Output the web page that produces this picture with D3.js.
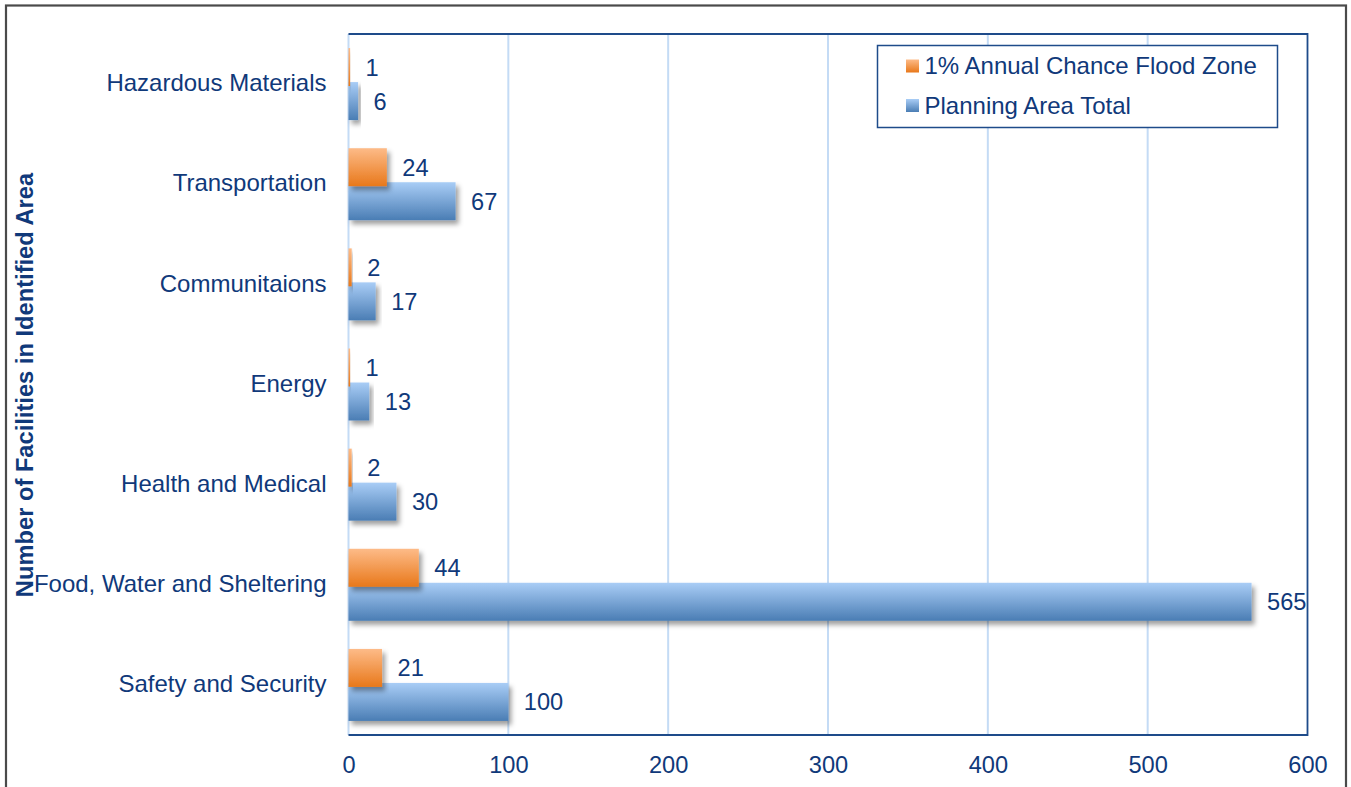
<!DOCTYPE html>
<html>
<head>
<meta charset="utf-8">
<script src="https://cdn.jsdelivr.net/npm/d3@7"></script>
<style>
  html, body { margin: 0; padding: 0; background: #fff; }
  svg { display: block; }
  text { font-family: "Liberation Sans", Arial, sans-serif; fill: #10397a; }
</style>
</head>
<body>
<svg id="chart" width="1351" height="787"></svg>
<script>
// Critical facilities by category
const categories = [
  "Hazardous Materials",
  "Transportation",
  "Communitaions",
  "Energy",
  "Health and Medical",
  "Food, Water and Sheltering",
  "Safety and Security"
];
const floodZone = [1, 24, 2, 1, 2, 44, 21];
const planningTotal = [6, 67, 17, 13, 30, 565, 100];
const xTicks = [0, 100, 200, 300, 400, 500, 600];
const seriesNames = ["1% Annual Chance Flood Zone", "Planning Area Total"];

const svg = d3.select("#chart");
const W = 1351, H = 787;
const plot = { left: 348.5, right: 1307.5, top: 34, bottom: 735 };
const textColor = "#10397a";
const fontSize = 23.6;

svg.append("rect").attr("width", W).attr("height", H).attr("fill", "#fff");

// gradients and shadow
const defs = svg.append("defs");
function vGrad(id, top, bottom) {
  const g = defs.append("linearGradient").attr("id", id)
    .attr("x1", 0).attr("y1", 0).attr("x2", 0).attr("y2", 1);
  g.append("stop").attr("offset", "0%").attr("stop-color", top);
  g.append("stop").attr("offset", "100%").attr("stop-color", bottom);
}
vGrad("gradOrange", "#fdbb88", "#e8781a");
vGrad("gradBlue", "#a9cdf6", "#4a7db4");
const shadow = defs.append("filter").attr("id", "barShadow")
  .attr("x", "-10%").attr("y", "-30%").attr("width", "130%").attr("height", "180%");
shadow.append("feDropShadow")
  .attr("dx", 3).attr("dy", 4).attr("stdDeviation", 2.5)
  .attr("flood-color", "#000").attr("flood-opacity", 0.38);

// outer frame
svg.append("rect")
  .attr("x", 6).attr("y", 5.5).attr("width", 1340).attr("height", 820)
  .attr("fill", "none").attr("stroke", "#4a4a4a").attr("stroke-width", 2.2);

const x = d3.scaleLinear().domain([0, 600]).range([plot.left, plot.right]);
const y = d3.scaleBand().domain(categories).range([plot.top, plot.bottom]);

// vertical gridlines
svg.append("g").selectAll("line").data(xTicks.slice(0, -1)).join("line")
  .attr("x1", d => x(d)).attr("x2", d => x(d))
  .attr("y1", plot.top).attr("y2", plot.bottom)
  .attr("stroke", "#c4dbf5").attr("stroke-width", 2);

// plot border: top, right, bottom
svg.append("path")
  .attr("d", `M${plot.left},${plot.top}H${plot.right}V${plot.bottom}H${plot.left}`)
  .attr("fill", "none").attr("stroke", "#1e4b8a").attr("stroke-width", 1.8);

// bars
const barH = 38;
const rows = categories.map((c, i) => ({ c, flood: floodZone[i], total: planningTotal[i] }));
const bars = svg.append("g");

bars.selectAll("rect.total").data(rows).join("rect")
  .attr("class", "total")
  .attr("x", x(0))
  .attr("y", d => y(d.c) + y.bandwidth() / 2 - 2)
  .attr("width", d => x(d.total) - x(0))
  .attr("height", barH)
  .attr("fill", "url(#gradBlue)")
  .attr("filter", "url(#barShadow)");

bars.selectAll("rect.flood").data(rows).join("rect")
  .attr("class", "flood")
  .attr("x", x(0))
  .attr("y", d => y(d.c) + y.bandwidth() / 2 - 36)
  .attr("width", d => x(d.flood) - x(0))
  .attr("height", barH)
  .attr("fill", "url(#gradOrange)")
  .attr("filter", "url(#barShadow)");

// value labels
const labels = svg.append("g").attr("font-size", fontSize);
labels.selectAll("text.flood").data(rows).join("text")
  .attr("x", d => x(d.flood) + 15.5)
  .attr("y", d => y(d.c) + y.bandwidth() / 2 - 17 + 8.5)
  .text(d => d.flood);
labels.selectAll("text.total").data(rows).join("text")
  .attr("x", d => x(d.total) + 15.5)
  .attr("y", d => y(d.c) + y.bandwidth() / 2 + 17 + 8.5)
  .text(d => d.total);

// category axis labels
const yAxis = d3.axisLeft(y).tickSize(0).tickPadding(22);
svg.append("g").attr("transform", `translate(${plot.left},0)`).call(yAxis)
  .call(g => g.select(".domain").remove())
  .call(g => g.selectAll("text")
    .attr("font-size", 24)
    .attr("font-family", "Liberation Sans, Arial, sans-serif")
    .attr("fill", textColor)
    .attr("dy", "0.3em"));

// value axis tick labels
const xAxis = d3.axisBottom(x).tickValues(xTicks).tickSize(0).tickPadding(0);
svg.append("g").attr("transform", `translate(0,${plot.bottom})`).call(xAxis)
  .call(g => g.select(".domain").remove())
  .call(g => g.selectAll("text")
    .attr("font-size", 23.6)
    .attr("font-family", "Liberation Sans, Arial, sans-serif")
    .attr("fill", textColor)
    .attr("dy", 0)
    .attr("y", 38));

// axis title
svg.append("text")
  .attr("transform", "translate(33,385) rotate(-90)")
  .attr("text-anchor", "middle")
  .attr("font-size", 23.7)
  .attr("font-weight", "bold")
  .text("Number of Facilities in Identified Area");

// legend
const legend = svg.append("g");
legend.append("rect")
  .attr("x", 877.5).attr("y", 45.5).attr("width", 400).attr("height", 82)
  .attr("fill", "#fff").attr("stroke", "#1e4b8a").attr("stroke-width", 1.5);
const legendItems = [
  { name: seriesNames[0], fill: "url(#gradOrange)", y: 59.5 },
  { name: seriesNames[1], fill: "url(#gradBlue)", y: 99 }
];
legend.selectAll("rect.key").data(legendItems).join("rect")
  .attr("class", "key")
  .attr("x", 906).attr("y", d => d.y).attr("width", 13).attr("height", 13)
  .attr("fill", d => d.fill);
legend.selectAll("text").data(legendItems).join("text")
  .attr("x", 924.5).attr("y", d => d.y + 14.5)
  .attr("font-size", 24)
  .text(d => d.name);
</script>
</body>
</html>
